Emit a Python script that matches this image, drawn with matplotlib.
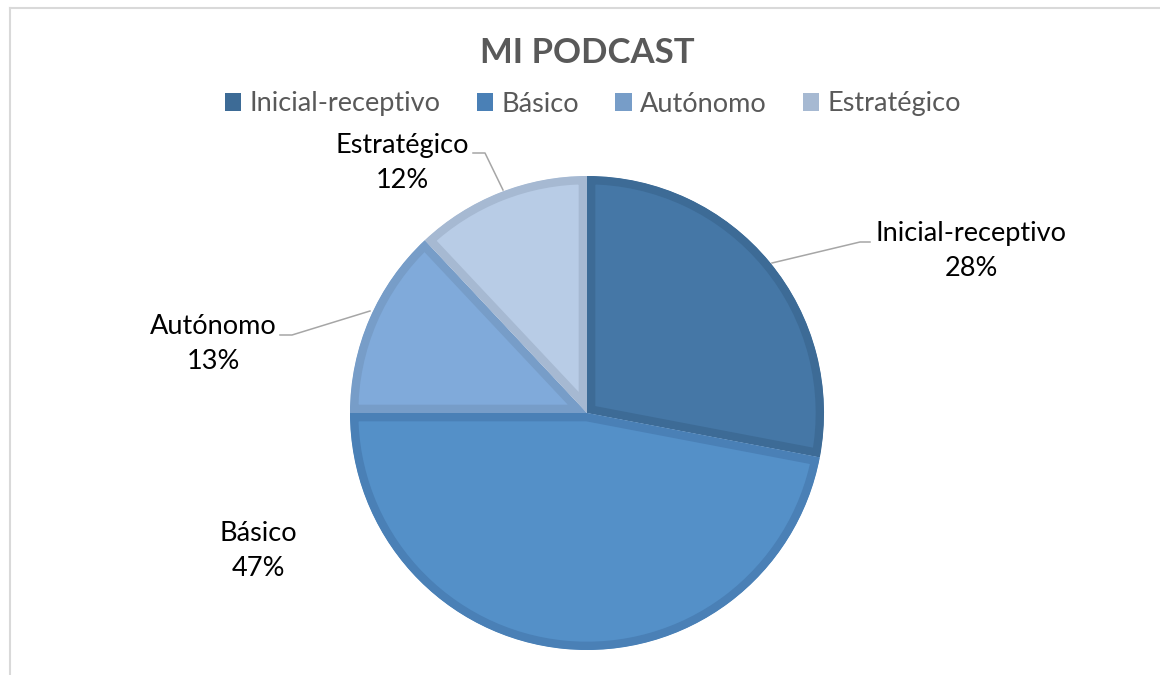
import matplotlib
matplotlib.use("Agg")
import matplotlib.pyplot as plt
from matplotlib.lines import Line2D
from matplotlib.patches import Patch

categories = ["Inicial-receptivo", "Básico", "Autónomo", "Estratégico"]
values = [28, 47, 13, 12]
title = "MI PODCAST"

fills = ["#4577A6", "#5490C8", "#80AADA", "#B8CCE6"]
edges = ["#3D6B96", "#4A80B6", "#779DC8", "#A6B9D2"]

W, H = 1160, 675
plt.rcParams["font.family"] = ["Lato", "DejaVu Sans"]
fig = plt.figure(figsize=(W / 100, H / 100), dpi=100)
ax = fig.add_axes([0, 0, 1, 1])

def Y(y):
    return H - y

cx, cy, r = 587, 413, 237
wedges, _ = ax.pie(values, startangle=90, counterclock=False,
                   center=(cx, Y(cy)), radius=r, colors=fills,
                   wedgeprops=dict(linewidth=12, antialiased=True),
                   frame=True)
for w, ec in zip(wedges, edges):
    w.set_edgecolor(ec)
    w.set_clip_on(True)
    w.set_clip_path(w)
ax.set_xlim(0, W)
ax.set_ylim(0, H)
ax.set_aspect("equal")
ax.axis("off")

# frame
ax.add_line(Line2D([10, W], [Y(8), Y(8)], color="#D9D9D9", lw=1.5))
ax.add_line(Line2D([10, 10], [Y(8), 0], color="#D9D9D9", lw=1.5))

# title
ax.text(587, Y(53), title, ha="center", va="center", fontsize=25,
        fontweight="bold", color="#595959")

# legend
handles = [Patch(facecolor=e, edgecolor="none") for e in edges]
leg = ax.legend(handles, categories, loc="center", ncol=4,
                bbox_to_anchor=(593 / W, 1 - 104 / H), frameon=False,
                fontsize=19.5, handlelength=0.6, handleheight=0.6,
                handletextpad=0.3, columnspacing=1.35, labelcolor="#595959")

# data labels
label_pos = [(971, 251), (258, 551), (213, 344), (402, 163)]
for cat, v, (lx, ly) in zip(categories, values, label_pos):
    ax.text(lx, Y(ly), f"{cat}\n{v}%", ha="center", va="center",
            fontsize=19.5, color="#000000", linespacing=1.5)

# leader lines
leaders = [
    [(772, 263), (860, 242), (870, 242)],
    [(370, 311), (292, 335), (280, 335)],
    [(503, 190), (485, 153), (473, 153)],
]
for pts in leaders:
    xs = [p[0] for p in pts]
    ys = [Y(p[1]) for p in pts]
    ax.add_line(Line2D(xs, ys, color="#A6A6A6", lw=1.1))

fig.savefig("out.png", dpi=100, facecolor="white")
